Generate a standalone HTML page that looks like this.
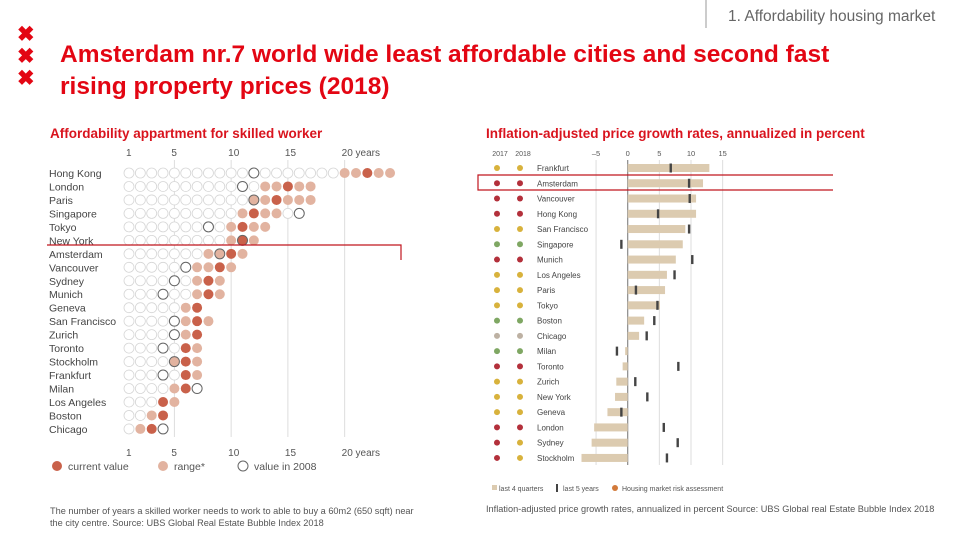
<!DOCTYPE html>
<html><head><meta charset="utf-8"><style>
body{margin:0;background:#fff;width:960px;height:540px;overflow:hidden;font-family:"Liberation Sans",sans-serif}
svg text{font-family:"Liberation Sans",sans-serif}
</style></head><body>
<svg id="s" width="960" height="540" viewBox="0 0 960 540">
<g>
<line x1="706" y1="0" x2="706" y2="28" stroke="#999" stroke-width="1"/>
<text x="728" y="21" font-size="15.5" fill="#666">1. Affordability housing market</text>
<g fill="#e30613" font-size="21" font-weight="bold">
<text x="17" y="41">✖</text><text x="17" y="63">✖</text><text x="17" y="85">✖</text></g>
<text x="60" y="62" font-size="24.5" font-weight="bold" fill="#e30613">Amsterdam nr.7 world wide least affordable cities and second fast</text>
<text x="60" y="94" font-size="24.5" font-weight="bold" fill="#e30613">rising property prices (2018)</text>
</g>
<text x="50" y="138" font-size="13.5" font-weight="bold" fill="#d9141e">Affordability appartment for skilled worker</text>
<text x="486" y="138" font-size="13.5" font-weight="bold" fill="#d9141e">Inflation-adjusted price growth rates, annualized in percent</text>
<g id="left"></g>
<g id="right"></g>
<g fill="#555" font-size="9.2">
<text x="50" y="514">The number of years a skilled worker needs to work to able to buy a 60m2 (650 sqft) near</text>
<text x="50" y="526">the city centre. Source: UBS Global Real Estate Bubble Index 2018</text>
<text x="486" y="512">Inflation-adjusted price growth rates, annualized in percent Source: UBS Global real Estate Bubble Index 2018</text>
</g>
<g stroke="#c0161f" stroke-width="1.2" fill="none">
<polyline points="47,245 401,245 401,260"/>
<polyline points="833,175 478,175 478,190 833,190"/>
</g>
</svg>
<script>
const NS='http://www.w3.org/2000/svg';
function mk(p,t,a){const e=document.createElementNS(NS,t);for(const k in a)e.setAttribute(k,a[k]);p.appendChild(e);return e;}
// LEFT data
const cities=['Hong Kong','London','Paris','Singapore','Tokyo','New York','Amsterdam','Vancouver','Sydney','Munich','Geneva','San Francisco','Zurich','Toronto','Stockholm','Frankfurt','Milan','Los Angeles','Boston','Chicago'];
const rangeLo=[20,13,12,11,10,10,8,7,7,7,6,6,6,6,5,6,5,4,3,2];
const rangeHi=[24,17,17,14,13,12,11,10,9,9,7,8,7,7,7,7,6,5,4,3];
const current=[22,15,14,12,11,11,10,9,8,8,7,7,7,6,6,6,6,4,4,3];
const val2008=[12,11,12,16,8,11,9,6,5,4,0,5,5,4,5,4,7,0,0,4];
const yearTicks=[1,5,10,15,20];
const yearLabels=['1','5','10','15','20 years'];
const L=document.getElementById('left');
const xL=n=>129+(n-1)*11.35, yL=i=>173+i*13.47;
yearTicks.forEach((t,k)=>{
  if(k>0){const g=mk(L,'line',{x1:xL(t),x2:xL(t),y1:160,y2:437,stroke:'#ddd','stroke-width':1});}
  [153,453].forEach(y=>{const tx=mk(L,'text',{x:xL(t)-3,y:y+3,'font-size':10,fill:'#555'});tx.textContent=yearLabels[k];});
});
cities.forEach((c,i)=>{
  const y=yL(i);
  const t=mk(L,'text',{x:49,y:y+4,'font-size':10.5,fill:'#444'});t.textContent=c;
  
  const max=Math.max(rangeHi[i],val2008[i]);
  for(let n=1;n<=max;n++){
    let fill='#fff',st='#d6d6d6';
    if(n>=rangeLo[i]&&n<=rangeHi[i]){fill='#e2b3a0';st='none';}
    if(n===current[i]){fill='#c9614a';st='none';}
    const ci=mk(L,'circle',{cx:xL(n),cy:y,r:5,fill:fill,stroke:st,'stroke-width':0.8});
    
    if(n===val2008[i]){const r=mk(L,'circle',{cx:xL(n),cy:y,r:5,fill:'none',stroke:'#666','stroke-width':1});}
  }
});
[[57,'#c9614a','none','current value'],[163,'#e2b3a0','none','range*'],[243,'#fff','#666','value in 2008']].forEach(d=>{
  const c=mk(L,'circle',{cx:d[0],cy:466,r:5,fill:d[1],stroke:d[2]});
  const t=mk(L,'text',{x:d[0]+11,y:470,'font-size':10.5,fill:'#555'});t.textContent=d[3];
});
// RIGHT data
const gCities=['Frankfurt','Amsterdam','Vancouver','Hong Kong','San Francisco','Singapore','Munich','Los Angeles','Paris','Tokyo','Boston','Chicago','Milan','Toronto','Zurich','New York','Geneva','London','Sydney','Stockholm'];
const last4q=[12.9,11.9,10.8,10.8,9.1,8.7,7.6,6.2,5.9,5.1,2.6,1.8,-0.4,-0.8,-1.8,-2.0,-3.2,-5.3,-5.7,-7.3];
const last5y=[6.8,9.7,9.8,4.8,9.7,-1.0,10.2,7.4,1.3,4.7,4.2,3.0,-1.7,8.0,1.2,3.1,-1.0,5.7,7.9,6.2];
const risk2017=['y','r','r','r','y','g','r','y','y','y','g','n','g','r','y','y','y','r','r','r'];
const risk2018=['y','r','r','r','y','g','r','y','y','y','g','n','g','r','y','y','y','r','y','y'];
const pctTicks=[-5,0,5,10,15];
const col={r:'#b3303b',y:'#d8b23c',g:'#7fa763',n:'#bdb1a3'};
const R=document.getElementById('right');
const xR=v=>627.7+v*6.33, yR=i=>168+i*15.26;
pctTicks.forEach(t=>{
  const g=mk(R,'line',{x1:xR(t),x2:xR(t),y1:160,y2:465,stroke:t===0?'#888':'#ddd','stroke-width':t===0?1.2:1});
  const tx=mk(R,'text',{x:xR(t),y:156,'font-size':7.5,fill:'#555','text-anchor':'middle'});tx.textContent=t<0?'–'+(-t):String(t);
});
[['2017',500],['2018',523]].forEach(d=>{const t=mk(R,'text',{x:d[1],y:156,'font-size':7,fill:'#555','text-anchor':'middle'});t.textContent=d[0];});
gCities.forEach((c,i)=>{
  const y=yR(i);
  const d1=mk(R,'circle',{cx:497,cy:y,r:3,fill:col[risk2017[i]]});
  const d2=mk(R,'circle',{cx:520,cy:y,r:3,fill:col[risk2018[i]]});
  const t=mk(R,'text',{x:537,y:y+3,'font-size':8,fill:'#444'});t.textContent=c;
  const a=xR(Math.min(0,last4q[i])),b=xR(Math.max(0,last4q[i]));
  const bar=mk(R,'rect',{x:a,y:y-4,width:b-a,height:8,fill:'#dccbb0'});
  const m=mk(R,'rect',{x:xR(last5y[i])-1.2,y:y-4.5,width:2.4,height:9,fill:'#444'});
});
const lg=[['rect',492,'last 4 quarters'],['mark',556,'last 5 years'],['dot',615,'Housing market risk assessment']];
lg.forEach(d=>{
  let e;
  if(d[0]==='rect')e=mk(R,'rect',{x:d[1],y:485,width:5,height:5,fill:'#dccbb0'});
  else if(d[0]==='mark')e=mk(R,'rect',{x:d[1],y:484,width:2,height:8,fill:'#444'});
  else e=mk(R,'circle',{cx:d[1],cy:488,r:3,fill:'#d27a3a'});
  
  const t=mk(R,'text',{x:d[1]+7,y:491,'font-size':7,fill:'#555'});t.textContent=d[2];
});
</script>
</body></html>
